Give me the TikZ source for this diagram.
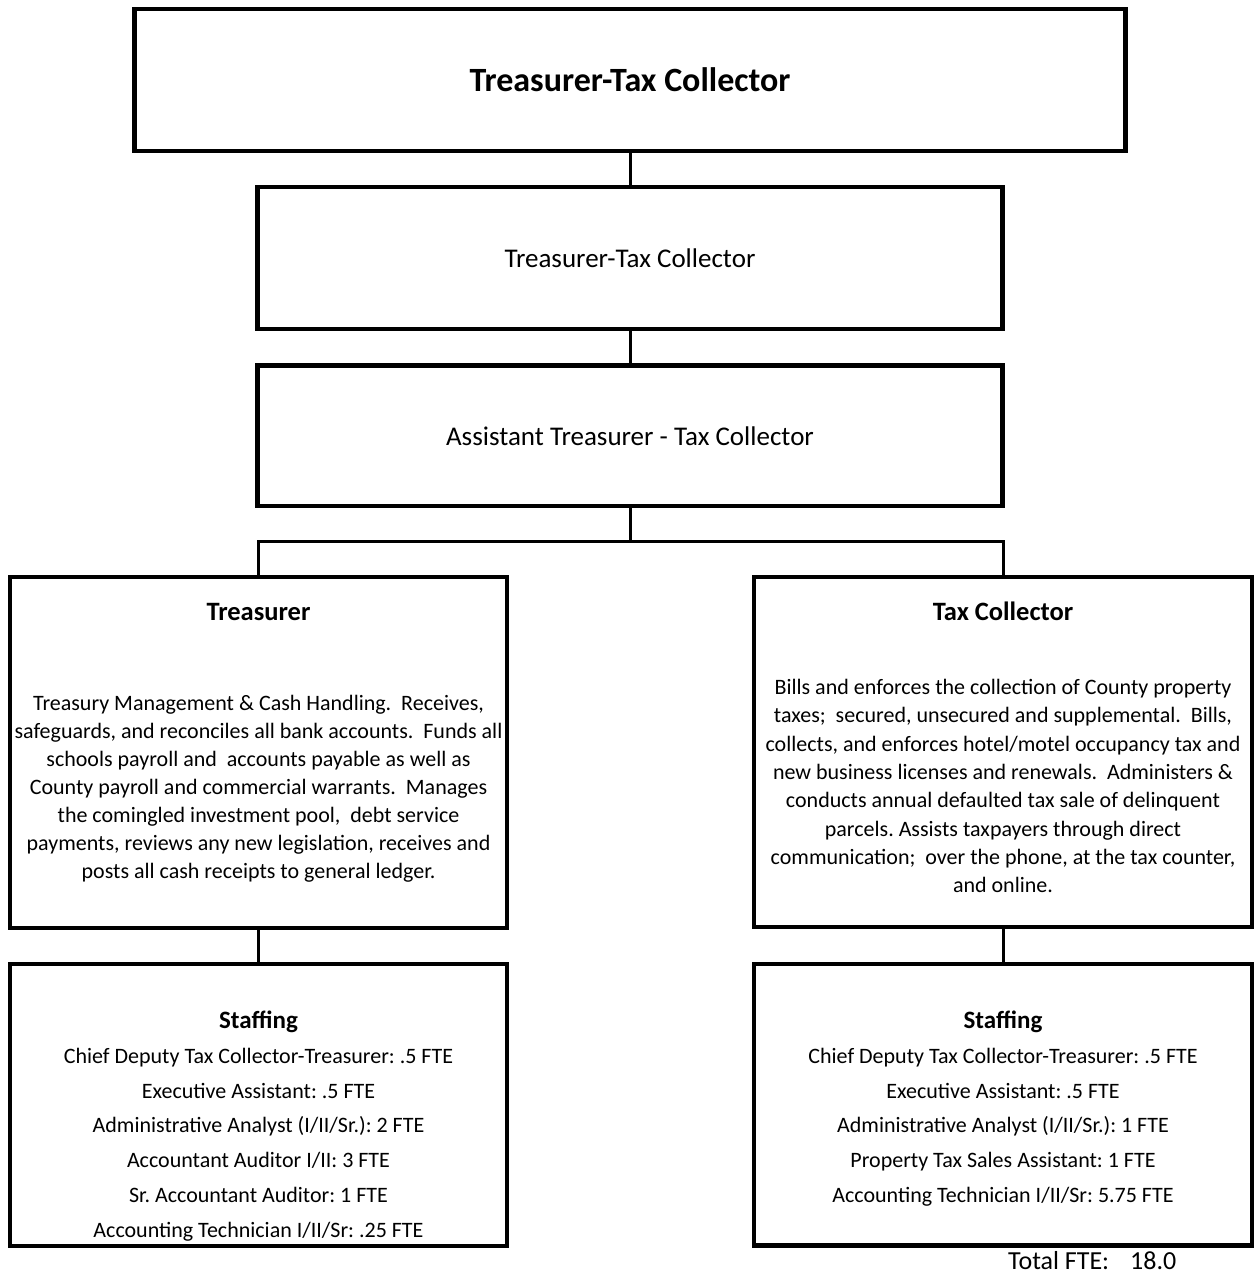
\documentclass[tikz,border=0pt]{standalone}
\usepackage{fontspec}
\setmainfont{Carlito}
\frenchspacing
\usetikzlibrary{shapes,arrows}
\tikzstyle{block} = [rectangle, draw, line width=4.5pt, inner sep=0pt]
\tikzstyle{line} = [draw, line width=3pt]
\tikzstyle{heading} = [inner sep=0pt, font=\bfseries\fontsize{26.5}{31}\selectfont]
\tikzstyle{desc} = [inner sep=0pt, align=center, font=\fontsize{22}{28}\selectfont]
\tikzstyle{staff} = [inner sep=0pt, align=center, font=\fontsize{22}{34.7}\selectfont]

\begin{document}
\begin{tikzpicture}[x=1pt, y=-1pt]
		\useasboundingbox (0,0) rectangle (1257,1273);
		% top of the chart
		\node [block, minimum width=991pt, minimum height=142pt, font=\bfseries\fontsize{34}{40}\selectfont] (ttc) at (630,80) {Treasurer-Tax Collector};
		\node [block, minimum width=745pt, minimum height=141.5pt, font=\fontsize{27}{32}\selectfont] (ttcoffice) at (630,258) {Treasurer-Tax Collector};
		\node [block, minimum width=745pt, minimum height=140.5pt, font=\fontsize{27}{32}\selectfont] (asst) at (630,435.75) {Assistant Treasurer - Tax Collector};
		\coordinate (split) at (630,541);
		
		% the two divisions
		\node [block, minimum width=497pt, minimum height=351pt] (treas) at (258.5,752.5) {};
		\node [block, minimum width=498pt, minimum height=350pt] (taxc) at (1003,752) {};
		\node [block, minimum width=497pt, minimum height=282pt] (treasstaff) at (258.5,1105) {};
		\node [block, minimum width=498pt, minimum height=281.5pt] (taxcstaff) at (1003,1104.75) {};
		
		\node [heading, anchor=base] (treashead) at (258.5,620) {Treasurer};
		\node [heading, anchor=base] (taxchead) at (1003,620) {Tax Collector};
		\node [desc] (treasdesc) at (258.5,789) {Treasury Management \& Cash Handling.\ \ Receives,\\
			safeguards, and reconciles all bank accounts.\ \ Funds all\\
			schools payroll and\ \ accounts payable as well as\\
			County payroll and commercial warrants.\ \ Manages\\
			the comingled investment pool,\ \ debt service\\
			payments, reviews any new legislation, receives and\\
			posts all cash receipts to general ledger.};
		\node [desc, font=\fontsize{22}{28.3}\selectfont] (taxcdesc) at (1003,786) {Bills and enforces the collection of County property\\
			taxes;\ \ secured, unsecured and supplemental.\ \ Bills,\\
			collects, and enforces hotel/motel occupancy tax and\\
			new business licenses and renewals.\ \ Administers \&\\
			conducts annual defaulted tax sale of delinquent\\
			parcels. Assists taxpayers through direct\\
			communication;\ \ over the phone, at the tax counter,\\
			and online.};
		
		\node [staff] (treasstafflist) at (258.5,1126) {{\bfseries\fontsize{25}{34.7}\selectfont Staffing}\\
			Chief Deputy Tax Collector-Treasurer: .5 FTE\\
			Executive Assistant: .5 FTE\\
			Administrative Analyst (I/II/Sr.): 2 FTE\\
			Accountant Auditor I/II: 3 FTE\\
			Sr. Accountant Auditor: 1 FTE\\
			Accounting Technician I/II/Sr: .25 FTE};
		\node [staff] (taxcstafflist) at (1003,1108.7) {{\bfseries\fontsize{25}{34.7}\selectfont Staffing}\\
			Chief Deputy Tax Collector-Treasurer: .5 FTE\\
			Executive Assistant: .5 FTE\\
			Administrative Analyst (I/II/Sr.): 1 FTE\\
			Property Tax Sales Assistant: 1 FTE\\
			Accounting Technician I/II/Sr: 5.75 FTE};
		\node [anchor=base west, inner sep=0pt, font=\fontsize{26}{31}\selectfont] (totalfte) at (1008,1269) {Total FTE:\hspace{21pt}18.0};
		
		\path [line] (ttc.south) -- (ttcoffice.north);
		\path [line] (ttcoffice.south) -- (asst.north);
		\path [line] (asst.south) -- (split);
		\path [line] (split) -| (treas.north);
		\path [line] (split) -| (taxc.north);
		\path [line] (treas.south) -- (treasstaff.north);
		\path [line] (taxc.south) -- (taxcstaff.north);
	\end{tikzpicture}
\end{document}
